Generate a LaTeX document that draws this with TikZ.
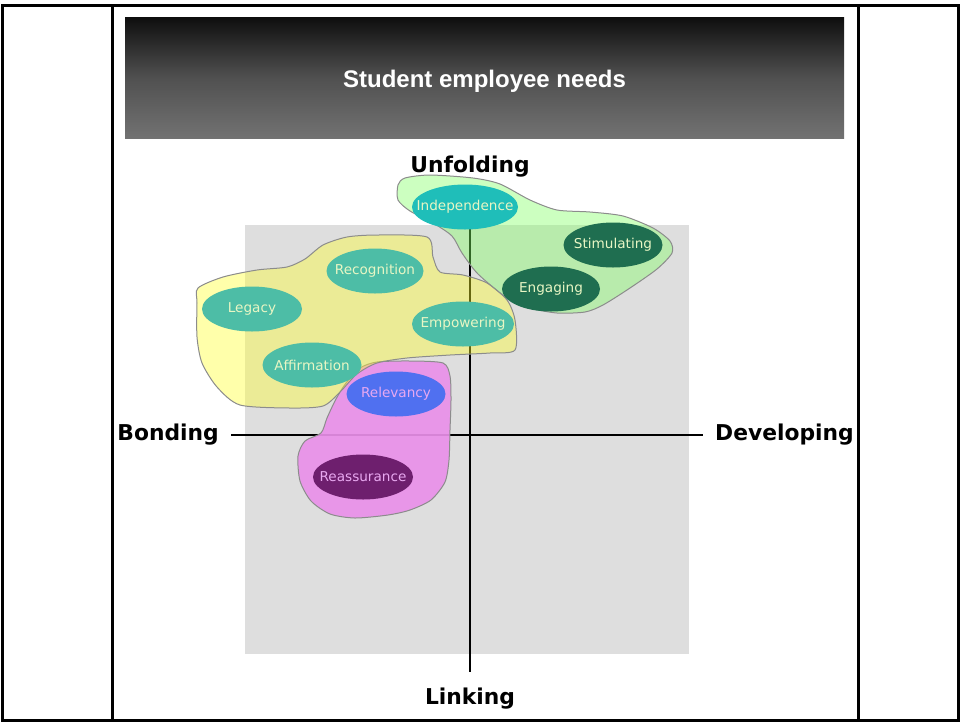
\documentclass[tikz,border=0pt]{standalone}
\usepackage{fontspec}
\newfontfamily\headfont{Liberation Sans}
\newfontfamily\needfont{DejaVu Sans}
\usetikzlibrary{positioning}
\usetikzlibrary{shapes.geometric}
\definecolor{quadGray}{RGB}{222,222,222}
\definecolor{tealNeed}{RGB}{77,189,166}
\definecolor{cyanNeed}{RGB}{31,190,185}
\definecolor{pineNeed}{RGB}{31,110,80}
\definecolor{blueNeed}{RGB}{80,112,240}
\definecolor{plumNeed}{RGB}{110,31,110}
\definecolor{paleText}{RGB}{232,246,196}
\definecolor{pinkText}{RGB}{232,168,240}
\definecolor{yellowBlob}{RGB}{255,255,42}
\definecolor{greenBlob}{RGB}{127,255,97}
\definecolor{pinkBlob}{RGB}{233,144,233}
\definecolor{blobEdge}{RGB}{140,140,140}
\newcommand{\needText}[1]{\makebox[0pt]{#1}}

\begin{document}
\begin{tikzpicture}[
    x=1pt, y=-1pt,
    titleBar/.style={
        rectangle, minimum width=719pt, minimum height=121pt,
        top color={rgb,255:red,14;green,14;blue,14},
        bottom color={rgb,255:red,114;green,114;blue,114},
        middle color={rgb,255:red,80;green,80;blue,80}
    },
    titleText/.style={
        text=white, font=\headfont\bfseries\fontsize{24}{28}\selectfont
    },
    axisLabel/.style={
        inner sep=1pt,
        font=\needfont\bfseries\fontsize{21.8}{26}\selectfont
    },
    axisLine/.style={line width=2.5pt},
    frameLine/.style={line width=3pt},
    blob/.style={draw=blobEdge, line width=1pt},
    needBubble/.style={
        ellipse, inner sep=0pt,
        minimum width=100pt,
        minimum height=45pt,
        text=paleText,
        font=\needfont\fontsize{13.6}{16}\selectfont
    }
]
\useasboundingbox (0,0) rectangle (961,724);
\draw[frameLine] (2.5,5.5) rectangle (958.5,720.5);
\draw[frameLine] (112,5.5) -- (112,720.5);
\draw[frameLine] (858,5.5) -- (858,720.5);
\node[titleBar] (title) at (484.5,77.5) {};
\node[titleText] (titleLabel) at ([yshift=-4pt]title.center) {Student employee needs};

\fill[quadGray] (245,225) rectangle (689,654);
\coordinate (axisW) at (231,435);
\coordinate (axisE) at (703,435);
\coordinate (axisN) at (470,229);
\coordinate (axisS) at (470,672);
\draw[axisLine] (axisW) -- (axisE);
\draw[axisLine] (axisN) -- (axisS);
\node[axisLabel] (unfolding) at (470,167) {Unfolding};
\node[axisLabel, left=11pt of axisW] (bonding) {Bonding};
\node[axisLabel, right=11pt of axisE] (developing) {Developing};
\node[axisLabel, below=15pt of axisS] (linking) {Linking};

\filldraw[blob, fill=pinkBlob, fill opacity=0.92] plot[smooth cycle, tension=0.45] coordinates {
    (377,362) (410,361) (443,363) (450,376) (451,400) (450,430) (449,460)
    (445,482) (431,500) (410,510) (388,515) (355,518) (330,514) (311,501)
    (300,481) (298,456) (305,441) (321,433) (327,418) (336,399) (346,383) (360,368)};
\filldraw[blob, fill=yellowBlob, fill opacity=0.4] plot[smooth cycle, tension=0.45] coordinates {
    (198,288) (223,277) (257,270) (287,267) (305,259) (323,245) (347,237)
    (377,235) (427,237) (433,257) (440,272) (463,275) (487,283) (507,300)
    (515,320) (515,350) (490,353) (450,355) (407,358) (377,363) (357,374)
    (340,392) (323,406) (290,408) (240,405) (217,387) (202,363) (197,337) (197,303)};
\filldraw[blob, fill=greenBlob, fill opacity=0.4] plot[smooth cycle, tension=0.45] coordinates {
    (398,185) (405,178) (430,175) (473,178) (500,184) (530,200) (557,210)
    (590,212) (623,216) (653,228) (670,241) (672,253) (657,269) (630,288)
    (603,305) (585,312) (557,313) (530,308) (507,298) (478,274) (462,253)
    (452,236) (433,223) (410,211) (398,200)};

\node[needBubble, fill=cyanNeed, minimum width=106pt] (independence) at (465,207) {\needText{Independence}};
\node[needBubble, fill=pineNeed, minimum width=99pt] (stimulating) at (613,245) {\needText{Stimulating}};
\node[needBubble, fill=pineNeed, minimum width=98pt] (engaging) at (551,289) {\needText{Engaging}};
\node[needBubble, fill=tealNeed, minimum width=97pt] (recognition) at (375,271) {\needText{Recognition}};
\node[needBubble, fill=tealNeed] (legacy) at (252,309) {\needText{Legacy}};
\node[needBubble, fill=tealNeed, minimum width=102pt] (empowering) at (463,324) {\needText{Empowering}};
\node[needBubble, fill=tealNeed, minimum width=99pt] (affirmation) at (312,365) {\needText{Affirmation}};
\node[needBubble, fill=blueNeed, text=pinkText, minimum width=99pt] (relevancy) at (396,394) {\needText{Relevancy}};
\node[needBubble, fill=plumNeed, text=pinkText] (reassurance) at (363,477) {\needText{Reassurance}};
\end{tikzpicture}
\end{document}
